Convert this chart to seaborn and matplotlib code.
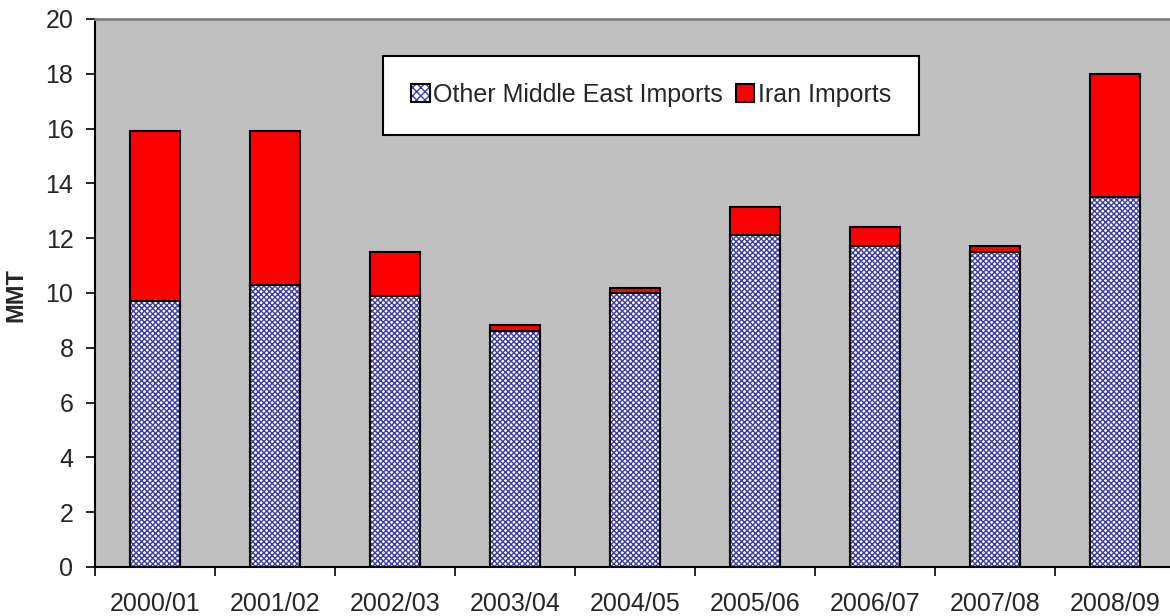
import matplotlib
matplotlib.use("Agg")
import matplotlib.pyplot as plt
import seaborn as sns
import pandas as pd
from matplotlib.patches import Patch

# --- data ---
years = ["2000/01", "2001/02", "2002/03", "2003/04", "2004/05",
         "2005/06", "2006/07", "2007/08", "2008/09"]
other_me = [9.7, 10.3, 9.9, 8.6, 10.0, 12.1, 11.7, 11.5, 13.5]
iran = [6.2, 5.6, 1.6, 0.25, 0.2, 1.05, 0.7, 0.2, 4.5]

df = pd.DataFrame({"year": years, "other": other_me, "iran": iran})
df["total"] = df["other"] + df["iran"]

sns.set_style("white")
plt.rcParams["font.family"] = ["Liberation Sans", "DejaVu Sans"]
plt.rcParams["hatch.linewidth"] = 1.0

fig = plt.figure(figsize=(11.7, 6.16), dpi=100)
ax = fig.add_axes([95 / 1170, 49 / 616, 1080 / 1170, 548 / 616])
ax.set_facecolor("#C0C0C0")

bw = 0.42
hatch_col = "#3C3CA4"
# red on top: draw the total first
sns.barplot(data=df, x="year", y="total", color="#FF0000", saturation=1,
            width=bw, edgecolor="black", linewidth=1.5, ax=ax)
# patterned lower part
sns.barplot(data=df, x="year", y="other", color="white", saturation=1,
            width=bw, edgecolor=hatch_col, linewidth=0, hatch="xxxxxx", ax=ax)
sns.barplot(data=df, x="year", y="other", color="black", saturation=1,
            width=bw, fill=False, linewidth=1.5, ax=ax)

ax.set_xlim(-0.5, len(years) - 0.5)
ax.set_ylim(0, 20)
ax.set_yticks(range(0, 21, 2))

# ticks between categories, labels at centres
ax.set_xticks([i - 0.5 for i in range(len(years) + 1)])
ax.set_xticklabels([])
ax.set_xticks(range(len(years)), minor=True)
ax.set_xticklabels(years, minor=True)
ax.tick_params(axis="x", which="major", direction="out", length=6.5, width=1.2,
               color="black", bottom=True)
ax.tick_params(axis="x", which="minor", length=0, pad=18, labelsize=18)
ax.tick_params(axis="y", direction="out", length=6.5, width=1.2, color="black",
               left=True, pad=9, labelsize=18)

ax.set_xlabel("")
ax.set_ylabel("MMT", fontsize=17, fontweight="bold")
ax.yaxis.set_label_coords(-0.063, 0.496)

for s in ["left", "bottom"]:
    ax.spines[s].set_color("black")
    ax.spines[s].set_linewidth(1.5)
ax.spines["top"].set_color("#808080")
ax.spines["top"].set_linewidth(2)
ax.spines["right"].set_color("#808080")

other_handle = (Patch(facecolor="white", edgecolor=hatch_col, hatch="xxxx", linewidth=0),
                Patch(fill=False, edgecolor="black", linewidth=1.5))
iran_handle = Patch(facecolor="#FF0000", edgecolor="black", linewidth=1.5)
leg = fig.legend([other_handle, iran_handle],
                 ["Other Middle East Imports", "Iran Imports"],
                 loc="center", ncol=2,
                 bbox_to_anchor=(651 / 1170, 1 - 95 / 616),
                 fontsize=18, frameon=True, fancybox=False, framealpha=1,
                 edgecolor="black", borderpad=1.1, handlelength=0.75,
                 handleheight=0.75, handletextpad=0.15, columnspacing=0.5)
leg.get_frame().set_linewidth(1.5)

fig.savefig("out.png", dpi=100)
